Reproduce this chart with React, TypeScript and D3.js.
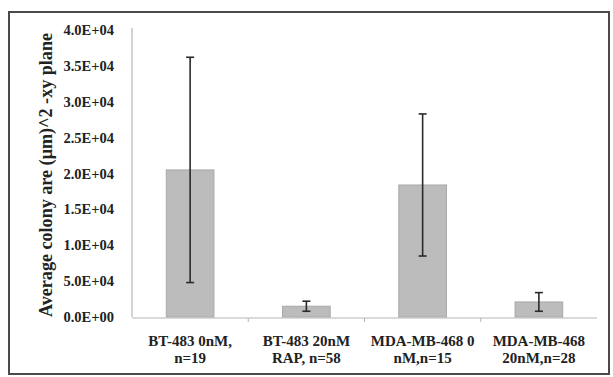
import React from 'react'
import { scaleBand, scaleLinear } from 'd3'

// colony area per condition
const categoryLine1 = ['BT-483 0nM,', 'BT-483 20nM', 'MDA-MB-468 0', 'MDA-MB-468']
const categoryLine2 = ['n=19', 'RAP, n=58', 'nM,n=15', '20nM,n=28']
const means = [20500, 1500, 18400, 2100]
const errors = [15700, 700, 9900, 1300]
const yTicks = [0, 5000, 10000, 15000, 20000, 25000, 30000, 35000, 40000]
// labels exactly as printed (the 5000 tick reads E+04 in the original)
const yTickLabels = ['0.0E+00', '5.0E+04', '1.0E+04', '1.5E+04', '2.0E+04', '2.5E+04', '3.0E+04', '3.5E+04', '4.0E+04']

const WIDTH = 613
const HEIGHT = 377
const M = { left: 132, right: 597, top: 30, bottom: 317 }

export default function App(): JSX.Element {
  const x = scaleBand<string>()
    .domain(categoryLine1)
    .range([M.left, M.right])
    .paddingInner(0.59)
    .paddingOuter(0.295)
  const y = scaleLinear().domain([0, 40000]).range([M.bottom, M.top])
  const step = x.step()
  const font = '"Liberation Serif", "Times New Roman", serif'

  return (
    <svg
      width={WIDTH}
      height={HEIGHT}
      style={{ position: 'absolute', left: 0, top: 0, background: '#fff' }}
      xmlns="http://www.w3.org/2000/svg"
    >
      <rect x={9} y={12} width={600} height={362} fill="#fff" stroke="#4a4a4a" strokeWidth={2} />

      {/* y axis line */}
      <line x1={M.left} x2={M.left} y1={y(40000) - 2} y2={M.bottom} stroke="#b5b5b5" strokeWidth={1.2} />
      {yTicks.map((t, i) => (
        <text
          key={t}
          x={114}
          y={y(t)}
          dy="0.35em"
          textAnchor="end"
          fontFamily={font}
          fontSize={14.5}
          fontWeight="bold"
          fill="#222"
        >
          {yTickLabels[i]}
        </text>
      ))}

      {/* bars */}
      {categoryLine1.map((c, i) => (
        <rect
          key={c}
          x={x(c)}
          y={y(means[i])}
          width={x.bandwidth()}
          height={M.bottom - y(means[i])}
          fill="#bcbcbc"
          stroke="#a9a9a9"
          strokeWidth={1}
        />
      ))}

      {/* x axis */}
      <line x1={M.left} x2={M.right} y1={M.bottom + 1} y2={M.bottom + 1} stroke="#b5b5b5" strokeWidth={1.2} />
      {categoryLine1.slice(1).map((c) => {
        const tx = (x(c) as number) - (step - x.bandwidth()) / 2
        return <line key={c} x1={tx} x2={tx} y1={M.bottom + 1} y2={M.bottom + 5} stroke="#b5b5b5" />
      })}

      {/* error bars */}
      {categoryLine1.map((c, i) => {
        const cx = (x(c) as number) + x.bandwidth() / 2
        const hi = y(means[i] + errors[i])
        const lo = y(means[i] - errors[i])
        return (
          <g key={c} stroke="#2a2a2a" strokeWidth={1.6}>
            <line x1={cx} x2={cx} y1={hi} y2={lo} />
            <line x1={cx - 4} x2={cx + 4} y1={hi} y2={hi} />
            <line x1={cx - 4} x2={cx + 4} y1={lo} y2={lo} />
          </g>
        )
      })}

      {/* category labels */}
      {categoryLine1.map((c, i) => {
        const cx = (x(c) as number) + x.bandwidth() / 2
        return (
          <text key={c} textAnchor="middle" fontFamily={font} fontSize={15} fontWeight="bold" fill="#222">
            <tspan x={cx} y={346}>{c}</tspan>
            <tspan x={cx} y={363}>{categoryLine2[i]}</tspan>
          </text>
        )
      })}

      {/* y title */}
      <text
        transform={`translate(52,${(33 + 317) / 2}) rotate(-90)`}
        textAnchor="middle"
        fontFamily={font}
        fontSize={18}
        fontWeight="bold"
        fill="#222"
        textLength={284}
        lengthAdjust="spacingAndGlyphs"
      >
        Average colony are (μm)^2 -xy plane
      </text>
    </svg>
  )
}
